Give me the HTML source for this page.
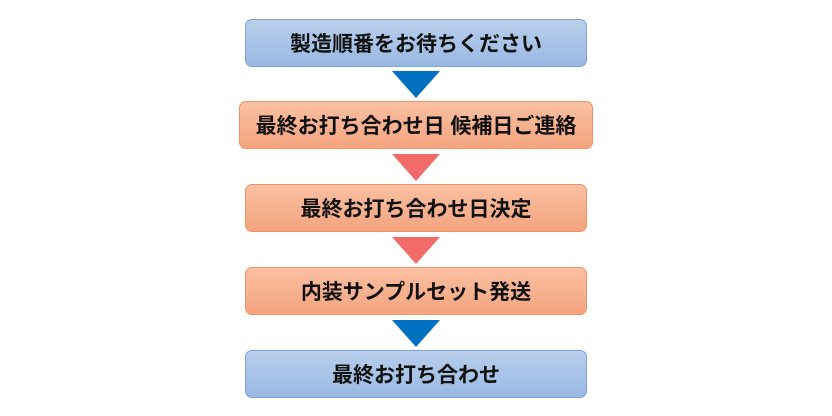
<!DOCTYPE html>
<html><head><meta charset="utf-8"><style>
body{margin:0;width:832px;height:416px;background:#fff;position:relative;overflow:hidden;font-family:"Liberation Sans","Noto Sans CJK JP",sans-serif}
.b{position:absolute;height:48px;border-radius:7px;display:flex;align-items:center;justify-content:center;font-weight:bold;font-size:21px;color:#111;box-sizing:border-box}
.bl{background:linear-gradient(#b9cfec,#98b9e3);border:1px solid #7fa3d3}
.or{background:linear-gradient(#f9c0a2,#f4a47e);border:1px solid #ef9462}
.t{position:absolute;width:0;height:0;border-left:24px solid transparent;border-right:24px solid transparent;border-top:27px solid}
</style></head><body>
<div class="b bl" style="left:245px;top:19px;width:342px">製造順番をお待ちください</div>
<div class="t" style="left:392px;top:71px;border-top-color:#0070c0"></div>
<div class="b or" style="left:239px;top:101px;width:354px">最終お打ち合わせ日 候補日ご連絡</div>
<div class="t" style="left:392px;top:154px;border-top-color:#f26b6b"></div>
<div class="b or" style="left:245px;top:184px;width:342px">最終お打ち合わせ日決定</div>
<div class="t" style="left:392px;top:237px;border-top-color:#f26b6b"></div>
<div class="b or" style="left:245px;top:267px;width:342px">内装サンプルセット発送</div>
<div class="t" style="left:392px;top:320px;border-top-color:#0070c0"></div>
<div class="b bl" style="left:245px;top:350px;width:342px">最終お打ち合わせ</div>
</body></html>
